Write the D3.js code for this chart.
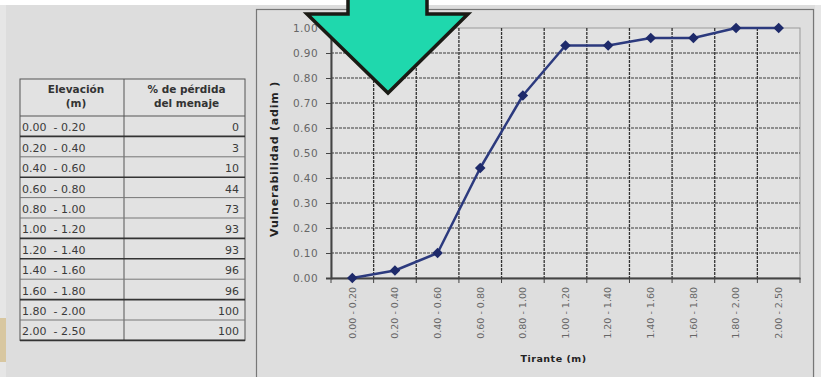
<!DOCTYPE html>
<html><head><meta charset="utf-8">
<script src="https://cdn.jsdelivr.net/npm/d3@7/dist/d3.min.js"></script>
<style>
html,body{margin:0;padding:0;background:#fff;}
svg{display:block;font-family:"DejaVu Sans",sans-serif;}
</style></head>
<body>
<svg id="c" width="821" height="377"></svg>
<script>
const categories = ["0.00 - 0.20","0.20 - 0.40","0.40 - 0.60","0.60 - 0.80","0.80 - 1.00","1.00 - 1.20","1.20 - 1.40","1.40 - 1.60","1.60 - 1.80","1.80 - 2.00","2.00 - 2.50"];
const tableLabels = ["0.00  - 0.20","0.20  - 0.40","0.40  - 0.60","0.60  - 0.80","0.80  - 1.00","1.00  - 1.20","1.20  - 1.40","1.40  - 1.60","1.60  - 1.80","1.80  - 2.00","2.00  - 2.50"];
const lossPct = [0,3,10,44,73,93,93,96,96,100,100];
const yTicks = [0,0.1,0.2,0.3,0.4,0.5,0.6,0.7,0.8,0.9,1.0];
const headers = [["Elevación","(m)"],["% de pérdida","del menaje"]];
const thickAfter = [0,2,5,6,8,10];

const svg = d3.select("#c");
// backgrounds
svg.append("rect").attr("x",0).attr("y",0).attr("width",821).attr("height",377).attr("fill","#ffffff");
svg.append("rect").attr("x",0).attr("y",5).attr("width",821).attr("height",372).attr("fill","#e6e6e6");
svg.append("rect").attr("x",6).attr("y",5).attr("width",809).attr("height",372).attr("fill","#dddddd");
svg.append("rect").attr("x",0).attr("y",318).attr("width",6).attr("height",44).attr("fill","#d8c7a0");

// ---------- Table ----------
const tx0 = 20, tx1 = 124, tx2 = 245, ty0 = 79, hy = 116, rh = 20.4;
const tg = svg.append("g");
tg.append("rect").attr("x",tx0).attr("y",ty0).attr("width",tx2-tx0).attr("height",hy-ty0+rh*lossPct.length)
  .attr("fill","#e2e2e2").attr("stroke","#555").attr("stroke-width",1);
tg.append("line").attr("x1",tx1).attr("x2",tx1).attr("y1",ty0).attr("y2",hy+rh*lossPct.length).attr("stroke","#555");
tg.append("line").attr("x1",tx0).attr("x2",tx2).attr("y1",hy).attr("y2",hy).attr("stroke","#555");
lossPct.forEach((v,i)=>{
  const y = hy + rh*(i+1);
  tg.append("line").attr("x1",tx0).attr("x2",tx2).attr("y1",y).attr("y2",y)
    .attr("stroke", thickAfter.includes(i) ? "#333" : "#777").attr("stroke-width", thickAfter.includes(i)?1.6:1);
  tg.append("text").attr("x",tx0+2).attr("y",y-5).attr("font-size",11).attr("fill","#3a3a3a")
    .style("white-space","pre").attr("xml:space","preserve").text(tableLabels[i]);
  tg.append("text").attr("x",tx2-6).attr("y",y-5).attr("font-size",11).attr("fill","#3a3a3a")
    .attr("text-anchor","end").text(v);
});
const hx = [(tx0+tx1)/2+4, (tx1+tx2)/2+2];
headers.forEach((h,j)=>{
  h.forEach((t,k)=>{
    tg.append("text").attr("x",hx[j]).attr("y",ty0+14+k*14).attr("text-anchor","middle")
      .attr("font-size",10.5).attr("font-weight","bold").attr("fill","#333").text(t);
  });
});

// ---------- Chart ----------
svg.append("rect").attr("x",256.5).attr("y",9.5).attr("width",557).attr("height",370)
  .attr("fill","#dedede").attr("stroke","#777").attr("stroke-width",1.2);

const m = {l:331, r:800, t:28, b:278};
const x = d3.scaleBand().domain(categories).range([m.l,m.r]).padding(0);
const y = d3.scaleLinear().domain([0,1]).range([m.b,m.t]);

const plot = svg.append("g");
plot.append("rect").attr("x",m.l).attr("y",m.t).attr("width",m.r-m.l).attr("height",m.b-m.t)
  .attr("fill","#e2e2e2").attr("stroke","#999").attr("stroke-width",1);
// horizontal grid
plot.selectAll(".hg").data(yTicks.slice(1,-1)).join("line")
  .attr("x1",m.l).attr("x2",m.r).attr("y1",d=>y(d)).attr("y2",d=>y(d))
  .attr("stroke","#3a3a3a").attr("stroke-width",1.2).attr("stroke-dasharray","3,1");
// vertical grid at band boundaries
plot.selectAll(".vg").data(categories.slice(1)).join("line")
  .attr("x1",d=>x(d)).attr("x2",d=>x(d)).attr("y1",m.t).attr("y2",m.b)
  .attr("stroke","#333").attr("stroke-width",1.3).attr("stroke-dasharray","3,1");

// y axis
const yAxis = d3.axisLeft(y).tickValues(yTicks).tickFormat(d3.format(".2f")).tickSize(5).tickPadding(8);
const ya = svg.append("g").attr("transform",`translate(${m.l},0)`).call(yAxis);
ya.select(".domain").attr("stroke","#444").attr("stroke-width",2);
ya.selectAll(".tick line").attr("stroke","#444");
ya.selectAll("text").attr("font-size",10.5).attr("fill","#666").attr("letter-spacing","0.4")
  .attr("font-family","DejaVu Sans");

// x axis
const xAxis = d3.axisBottom(x).tickSize(5).tickSizeOuter(0);
const xa = svg.append("g").attr("transform",`translate(0,${m.b})`).call(xAxis);
xa.select(".domain").attr("stroke","#444").attr("stroke-width",2);
xa.selectAll(".tick line").attr("transform",`translate(${-x.bandwidth()/2},0)`).attr("stroke","#444");
xa.append("line").attr("x1",m.r).attr("x2",m.r).attr("y1",0).attr("y2",5).attr("stroke","#444");
xa.selectAll(".tick text").attr("font-size",9.5).attr("fill","#666").attr("font-family","DejaVu Sans")
  .attr("text-anchor","end").attr("transform","rotate(-90)").attr("x",-9).attr("y",0).attr("dy","0.35em");

// axis titles
svg.append("text").attr("transform",`translate(278,${(m.t+m.b)/2+6}) rotate(-90)`).attr("text-anchor","middle")
  .attr("font-size",11).attr("font-weight","bold").attr("fill","#222").attr("letter-spacing","0.8")
  .text("Vulnerabilidad (adim )");
svg.append("text").attr("x",(m.l+m.r)/2-12).attr("y",362).attr("text-anchor","middle")
  .attr("font-size",9.5).attr("font-weight","bold").attr("fill","#222").attr("letter-spacing","0.5")
  .text("Tirante (m)");

// series
const pts = categories.map((c,i)=>({c, v: lossPct[i]/100}));
const line = d3.line().x(d=>x(d.c)+x.bandwidth()/2).y(d=>y(d.v)).curve(d3.curveLinear);
svg.append("path").datum(pts).attr("d",line).attr("fill","none").attr("stroke","#2c3a7e").attr("stroke-width",2.5)
  .attr("stroke-linejoin","round");
svg.selectAll(".mk").data(pts).join("path")
  .attr("d",d3.symbol(d3.symbolSquare,56)())
  .attr("transform",d=>`translate(${x(d.c)+x.bandwidth()/2},${y(d.v)}) rotate(45)`)
  .attr("fill","#1e2a6a");

// arrow overlay
const arrow = [[348,-5],[427,-5],[427,14],[468,14],[388,93],[307,14],[348,14]];
svg.append("polygon").attr("points",arrow.map(p=>p.join(",")).join(" "))
  .attr("fill","#1fd8ad").attr("stroke","#1a1a14").attr("stroke-width",3.5).attr("stroke-linejoin","miter");
</script>
</body></html>
